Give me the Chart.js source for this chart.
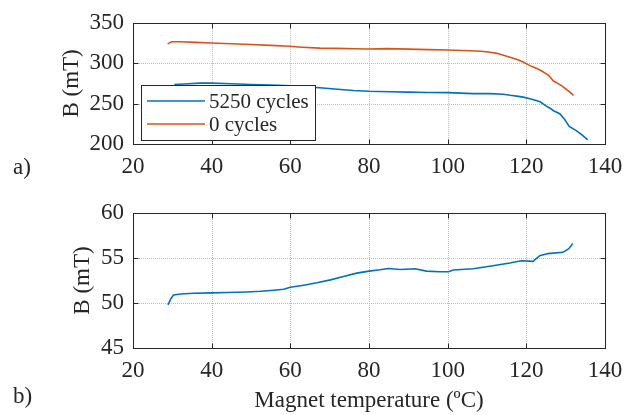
<!DOCTYPE html>
<html>
<head>
<meta charset="utf-8">
<script src="https://cdn.jsdelivr.net/npm/chart.js@4.4.1/dist/chart.umd.min.js"></script>
<style>
  html, body { margin: 0; padding: 0; background: #fff; }
  #wrap { position: relative; width: 639px; height: 415px; overflow: hidden; }
  #c1 { position: absolute; left: 0; top: 0; }
  #c2 { position: absolute; left: 0; top: 190px; }
</style>
</head>
<body>
<div id="wrap">
  <canvas id="c1" width="639" height="190"></canvas>
  <canvas id="c2" width="639" height="225"></canvas>
</div>
<script>
// ---------- data ----------
const seriesLabels = ['5250 cycles', '0 cycles'];
const panelLabels = ['a)', 'b)'];
const yTitle = 'B (mT)';
const xTitle = 'Magnet temperature (\u00BAC)';

// panel a) – 5250 cycles
const tempA5250 = [30.5, 33, 37, 40, 45, 50, 55, 60, 64, 67.5, 72, 76, 80, 85.3, 90, 95, 100, 106.5, 110.8, 114.2, 115.9, 117.5, 119.2, 120.9, 122.5, 123.5, 124.9, 126.2, 126.9, 128.5, 129.7, 130.9, 132.6, 134.3, 135.6];
const bA5250    = [273.6, 274.2, 275.4, 275.3, 274.6, 273.6, 272.9, 271.9, 270.5, 269.6, 267.8, 266.3, 265.3, 264.6, 264.2, 263.8, 263.6, 262.4, 262.4, 261.6, 260.3, 259.3, 258.0, 255.9, 253.8, 252.2, 247.4, 243.7, 241.2, 237.5, 230.8, 221.7, 216.9, 210.7, 205.1];
// panel a) – 0 cycles
const tempA0 = [28.8, 29.8, 32, 36, 39.8, 45, 50, 55, 59.7, 63, 67.5, 72, 76, 79.8, 84.5, 90, 95, 100, 105.7, 108.5, 110.8, 112.5, 114.2, 116.7, 118, 119.2, 120.9, 122.2, 123.5, 125.6, 126.9, 128, 129, 130.7, 132];
const bA0    = [323.9, 326.5, 326.5, 325.8, 325.0, 324.0, 323.1, 322.1, 321.0, 319.8, 318.6, 318.3, 317.9, 317.6, 318.0, 317.4, 316.8, 316.4, 315.4, 314.7, 313.6, 312.2, 309.9, 306.2, 304.0, 301.4, 297.0, 294.4, 291.5, 285.3, 277.9, 275.0, 272.0, 265.8, 260.3];

// panel b) – difference
const tempB = [28.9, 29.6, 30.3, 32.1, 35.5, 40, 44, 49, 52.4, 55.8, 58.3, 60, 63.4, 66.8, 70.2, 73.5, 76.9, 80, 82.8, 84.9, 87.9, 91.7, 94.6, 98, 100.2, 101.4, 106.5, 111.5, 115.8, 118.7, 121.7, 123.4, 125.5, 129.3, 130.8, 131.8];
const bB    = [49.8, 50.45, 50.9, 51.0, 51.08, 51.12, 51.16, 51.23, 51.3, 51.42, 51.53, 51.75, 51.98, 52.24, 52.57, 52.95, 53.32, 53.54, 53.69, 53.84, 53.73, 53.81, 53.54, 53.47, 53.47, 53.66, 53.81, 54.14, 54.44, 54.7, 54.63, 55.26, 55.49, 55.63, 56.04, 56.6];

const xTicks = [20, 40, 60, 80, 100, 120, 140];
const yTicksA = [200, 250, 300, 350];
const yTicksB = [45, 50, 55, 60];

const BLUE = '#0072BD';
const ORANGE = '#D95319';
const INK = '#262626';
const FONT = "'Liberation Serif', 'Times New Roman', serif";

function pts(xs, ys) { return xs.map((x, i) => ({ x: x, y: ys[i] })); }

// ---------- plugins ----------
const frame = {
  id: 'frame',
  beforeDatasetsDraw(chart) {
    const { ctx, chartArea: a, scales: { x, y } } = chart;
    ctx.save();
    ctx.strokeStyle = '#bcbcbc';
    ctx.lineWidth = 1;
    ctx.setLineDash([1, 1]);
    x.ticks.forEach(t => {
      const px = Math.round(x.getPixelForValue(t.value)) + 0.5;
      if (px <= a.left + 1 || px >= a.right - 1) return;
      ctx.beginPath(); ctx.moveTo(px, a.top); ctx.lineTo(px, a.bottom); ctx.stroke();
    });
    y.ticks.forEach(t => {
      const py = Math.round(y.getPixelForValue(t.value)) + 0.5;
      if (py <= a.top + 1 || py >= a.bottom - 1) return;
      ctx.beginPath(); ctx.moveTo(a.left, py); ctx.lineTo(a.right, py); ctx.stroke();
    });
    ctx.restore();
  },
  afterDatasetsDraw(chart) {
    const { ctx, chartArea: a, scales: { x, y } } = chart;
    ctx.save();
    ctx.strokeStyle = INK;
    ctx.lineWidth = 1;
    ctx.setLineDash([]);
    const L = Math.round(a.left) + 0.5, R = Math.round(a.right) + 0.5;
    const T = Math.round(a.top) + 0.5, B = Math.round(a.bottom) + 0.5;
    ctx.strokeRect(L, T, R - L, B - T);
    const tl = 5;
    x.ticks.forEach(t => {
      const px = Math.round(x.getPixelForValue(t.value)) + 0.5;
      ctx.beginPath();
      ctx.moveTo(px, B); ctx.lineTo(px, B - tl);
      ctx.moveTo(px, T); ctx.lineTo(px, T + tl);
      ctx.stroke();
    });
    y.ticks.forEach(t => {
      const py = Math.round(y.getPixelForValue(t.value)) + 0.5;
      ctx.beginPath();
      ctx.moveTo(L, py); ctx.lineTo(L + tl, py);
      ctx.moveTo(R, py); ctx.lineTo(R - tl, py);
      ctx.stroke();
    });
    ctx.restore();
  },
  afterDraw(chart, args, opts) {
    const ctx = chart.ctx;
    ctx.save();
    ctx.fillStyle = INK;
    ctx.font = '23px ' + FONT;
    ctx.textAlign = 'left';
    ctx.textBaseline = 'middle';
    if (opts.panel) ctx.fillText(opts.panel.text, opts.panel.x, opts.panel.y);
    if (opts.legend) {
      const lg = opts.legend;
      ctx.fillStyle = '#fff';
      ctx.fillRect(lg.x, lg.y, lg.w, lg.h);
      ctx.strokeStyle = INK;
      ctx.lineWidth = 1;
      ctx.strokeRect(lg.x + 0.5, lg.y + 0.5, lg.w, lg.h);
      ctx.font = '21px ' + FONT;
      chart.data.datasets.forEach((ds, i) => {
        const yy = lg.y + lg.row0 + i * lg.rowH;
        ctx.strokeStyle = ds.borderColor;
        ctx.lineWidth = 1.5;
        ctx.beginPath();
        ctx.moveTo(lg.x + 6, yy); ctx.lineTo(lg.x + 64, yy);
        ctx.stroke();
        ctx.fillStyle = INK;
        ctx.fillText(ds.label, lg.x + 68, yy + 1);
      });
    }
    ctx.restore();
  }
};

function makeOptions(yMin, yMax, yStep, yTickVals, xAxisH, padTop, yTitlePad, showXTitle, frameOpts) {
  return {
    responsive: false,
    animation: false,
    layout: { padding: { top: padTop, right: 34, left: 0, bottom: 0 } },
    plugins: {
      legend: { display: false },
      tooltip: { enabled: false },
      frame: frameOpts
    },
    scales: {
      x: {
        type: 'linear',
        min: 20, max: 140,
        afterFit(s) { s.height = xAxisH; },
        afterBuildTicks(s) { s.ticks = xTicks.map(v => ({ value: v })); },
        grid: { display: false, drawTicks: false },
        border: { display: false },
        ticks: { padding: 9, color: INK, font: { family: FONT, size: 23 }, maxRotation: 0 },
        title: {
          display: showXTitle, text: xTitle, color: INK,
          font: { family: FONT, size: 23 }, padding: { top: 0, bottom: 0 }
        }
      },
      y: {
        type: 'linear',
        min: yMin, max: yMax,
        afterFit(s) { s.width = 133; },
        afterBuildTicks(s) { s.ticks = yTickVals.map(v => ({ value: v })); },
        grid: { display: false, drawTicks: false },
        border: { display: false },
        ticks: { padding: 9, color: INK, font: { family: FONT, size: 23 } },
        title: {
          display: true, text: yTitle, color: INK,
          font: { family: FONT, size: 23 }, padding: { top: yTitlePad, bottom: 0 }
        }
      }
    }
  };
}

const lineDs = (label, data, color) => ({
  label: label, data: data, borderColor: color, backgroundColor: color,
  borderWidth: 1.6, pointRadius: 0, showLine: true, tension: 0
});

new Chart(document.getElementById('c1'), {
  type: 'scatter',
  data: {
    datasets: [
      lineDs(seriesLabels[0], pts(tempA5250, bA5250), BLUE),
      lineDs(seriesLabels[1], pts(tempA0, bA0), ORANGE)
    ]
  },
  options: makeOptions(200, 350, 50, yTicksA, 46, 8, 58, false, {
    panel: { text: panelLabels[0], x: 13, y: 168 },
    legend: { x: 141, y: 85, w: 174, h: 55, row0: 16, rowH: 23 }
  }),
  plugins: [frame]
});

new Chart(document.getElementById('c2'), {
  type: 'scatter',
  data: {
    datasets: [ lineDs('', pts(tempB, bB), BLUE) ]
  },
  options: makeOptions(45, 60, 5, yTicksB, 67, 23, 69, true, {
    panel: { text: panelLabels[1], x: 13, y: 207 }
  }),
  plugins: [frame]
});
</script>
</body>
</html>
